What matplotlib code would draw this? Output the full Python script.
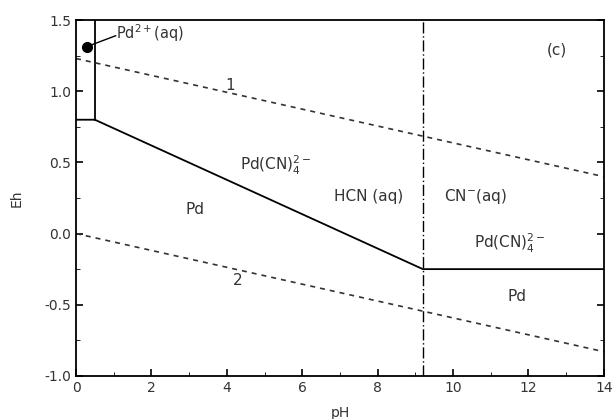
import matplotlib
matplotlib.use("Agg")
import matplotlib.pyplot as plt
from matplotlib.ticker import MultipleLocator, FormatStrFormatter

# Pd-CN-H2O Eh-pH diagram
ph_limits = [0, 14]
eh_limits = [-1.0, 1.5]

# Pd / Pd(CN)4 2- boundary and Pd2+ field
pd_boundary_ph = [0.0, 0.5, 9.2, 14.0]
pd_boundary_eh = [0.8, 0.8, -0.25, -0.25]
pd2_field_ph = [0.5, 0.5]
pd2_field_eh = [0.8, 1.5]

# HCN / CN- boundary
hcn_pka = 9.2

# water stability lines
water1_ph = [0, 14]
water1_eh = [1.23, 0.40]
water2_ph = [0, 14]
water2_eh = [0.0, -0.83]

labels = [
    (r"Pd(CN)$_4^{2-}$", 5.3, 0.48),
    ("HCN (aq)", 7.75, 0.26),
    (r"CN$^{-}$(aq)", 10.6, 0.26),
    ("Pd", 3.15, 0.17),
    (r"Pd(CN)$_4^{2-}$", 11.5, -0.07),
    ("Pd", 11.7, -0.44),
    ("(c)", 12.75, 1.29),
    ("1", 4.1, 1.04),
    ("2", 4.3, -0.33),
]

fig = plt.figure(figsize=(6.13, 4.19), dpi=100)
ax = fig.add_axes([0.124, 0.103, 0.861, 0.849])

ax.plot(pd_boundary_ph, pd_boundary_eh, color="black", lw=1.3)
ax.plot(pd2_field_ph, pd2_field_eh, color="black", lw=1.3)
ax.axvline(hcn_pka, color="black", lw=1.0, ls=(0, (8, 2, 1, 2)))
ax.plot(water1_ph, water1_eh, color="#333333", lw=1.2, ls=(0, (3, 3)))
ax.plot(water2_ph, water2_eh, color="#333333", lw=1.2, ls=(0, (3, 3)))

# Pd2+(aq) marker with leader line
ax.plot([0.29], [1.31], "o", color="black", ms=7)
ax.plot([0.35, 1.05], [1.32, 1.39], color="black", lw=1.0)
ax.text(1.05, 1.41, r"Pd$^{2+}$(aq)", fontsize=10.5, color="#333333",
        ha="left", va="center")

for txt, x, y in labels:
    ax.text(x, y, txt, fontsize=11, color="#333333", ha="center", va="center")

ax.set_xlim(ph_limits)
ax.set_ylim(eh_limits)
ax.xaxis.set_major_locator(MultipleLocator(2))
ax.xaxis.set_minor_locator(MultipleLocator(1))
ax.yaxis.set_major_locator(MultipleLocator(0.5))
ax.yaxis.set_minor_locator(MultipleLocator(0.25))
ax.yaxis.set_major_formatter(FormatStrFormatter("%.1f"))
ax.tick_params(which="both", direction="in", top=False, right=True,
               labelsize=10, labelcolor="#333333")
ax.tick_params(which="major", length=5, width=1.2)
ax.tick_params(which="minor", length=3)
for s in ax.spines.values():
    s.set_linewidth(1.3)

ax.set_xlabel("pH", fontsize=10, color="#333333", labelpad=8)
ax.set_ylabel("Eh", fontsize=10, color="#333333", labelpad=15)

fig.savefig("out.png", dpi=100)
